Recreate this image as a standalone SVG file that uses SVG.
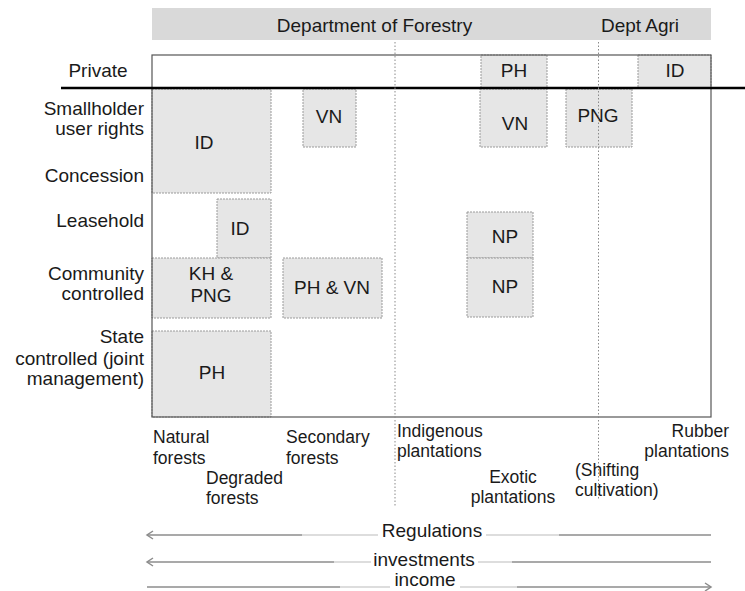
<svg xmlns="http://www.w3.org/2000/svg" width="745" height="591" viewBox="0 0 745 591">
<style>
text{font-family:"Liberation Sans",Arial,sans-serif;fill:#1a1a1a;}
.lbl{font-size:19px;}
.row{font-size:19px;text-anchor:end;}
.cat{font-size:17.5px;}
.mid{text-anchor:middle;}
.box{fill:#e6e6e6;stroke:#9a9a9a;stroke-width:1;stroke-dasharray:2 1;}
.dot{stroke:#8a8a8a;stroke-width:1;stroke-dasharray:1.5 2;fill:none;}
.dk{stroke:#8c8c8c;stroke-width:1.5;fill:none;}
.lt{stroke:#d2d2d2;stroke-width:1.5;fill:none;}
</style>
<rect width="745" height="591" fill="#ffffff"/>
<g id="header">
<rect x="152" y="8" width="559" height="32" fill="#d9d9d9"/>
<text class="lbl mid" x="374.5" y="32">Department of Forestry</text>
<text class="lbl mid" x="640" y="32">Dept Agri</text>
</g>
<g id="row-labels">
<text class="lbl mid" x="98" y="77">Private</text>
<text class="row" x="144" y="115">Smallholder</text>
<text class="row" x="144" y="135">user rights</text>
<text class="row" x="144" y="182">Concession</text>
<text class="row" x="144" y="227">Leasehold</text>
<text class="row" x="144" y="280">Community</text>
<text class="row" x="144" y="300">controlled</text>
<text class="row" x="144" y="343">State</text>
<text class="row" x="144" y="365">controlled (joint</text>
<text class="row" x="144" y="385">management)</text>
</g>
<g id="node-ph-private"><rect class="box" x="481" y="55" width="66" height="33"/><text class="lbl mid" x="514" y="77">PH</text></g>
<g id="node-id-private"><rect class="box" x="638" y="55" width="73" height="33"/><text class="lbl mid" x="675" y="77">ID</text></g>
<g id="node-id-concession"><rect class="box" x="152" y="89" width="119" height="104"/><text class="lbl mid" x="204" y="149">ID</text></g>
<g id="node-vn-secondary"><rect class="box" x="303" y="89" width="53" height="58"/><text class="lbl mid" x="329" y="123">VN</text></g>
<g id="node-vn-exotic"><rect class="box" x="480" y="89" width="67" height="58"/><text class="lbl mid" x="515" y="130">VN</text></g>
<g id="node-png-shifting"><rect class="box" x="566" y="89" width="66" height="58"/><text class="lbl mid" x="598" y="122">PNG</text></g>
<g id="node-id-leasehold"><rect class="box" x="217" y="199" width="54" height="59"/><text class="lbl mid" x="240" y="235">ID</text></g>
<g id="node-np-leasehold"><rect class="box" x="467" y="212" width="66" height="46"/><text class="lbl mid" x="505" y="243">NP</text></g>
<g id="node-khpng"><rect class="box" x="152" y="258" width="119" height="60"/><text class="lbl mid" x="211" y="280">KH &amp;</text><text class="lbl mid" x="211" y="302">PNG</text></g>
<g id="node-phvn"><rect class="box" x="283" y="258" width="99" height="60"/><text class="lbl mid" x="332" y="294">PH &amp; VN</text></g>
<g id="node-np-community"><rect class="box" x="467" y="258" width="66" height="59"/><text class="lbl mid" x="505" y="293">NP</text></g>
<g id="node-ph-state"><rect class="box" x="152" y="331" width="119" height="86"/><text class="lbl mid" x="212" y="379">PH</text></g>
<g id="frame">
<rect x="152" y="55" width="559" height="362" fill="none" stroke="#555" stroke-width="1.2"/>
<line x1="61" y1="88" x2="745" y2="88" stroke="#000" stroke-width="2.5"/>
<line class="dot" x1="395" y1="42" x2="395" y2="506"/>
<line class="dot" x1="598.5" y1="42" x2="598.5" y2="500"/>
</g>
<g id="categories">
<text class="cat" x="153" y="443">Natural</text>
<text class="cat" x="153" y="464">forests</text>
<text class="cat" x="206" y="484">Degraded</text>
<text class="cat" x="206" y="504">forests</text>
<text class="cat" x="286" y="443">Secondary</text>
<text class="cat" x="286" y="464">forests</text>
<text class="cat" x="397" y="437">Indigenous</text>
<text class="cat" x="397" y="457">plantations</text>
<text class="cat mid" x="513" y="483">Exotic</text>
<text class="cat mid" x="513" y="503">plantations</text>
<text class="cat" x="575" y="476">(Shifting</text>
<text class="cat" x="575" y="496">cultivation)</text>
<text class="cat" x="729" y="437" text-anchor="end">Rubber</text>
<text class="cat" x="729" y="457" text-anchor="end">plantations</text>
</g>
<g id="connectors">
<line class="dk" x1="147" y1="535" x2="302" y2="535"/>
<line class="lt" x1="302" y1="535" x2="378" y2="535"/>
<line class="lt" x1="486" y1="535" x2="559" y2="535"/>
<line class="dk" x1="559" y1="535" x2="711" y2="535"/>
<path class="dk" d="M153,531 L147,535 L153,539"/>
<line class="dk" x1="147" y1="562" x2="334" y2="562"/>
<line class="lt" x1="334" y1="562" x2="371" y2="562"/>
<line class="lt" x1="478" y1="562" x2="512" y2="562"/>
<line class="dk" x1="512" y1="562" x2="711" y2="562"/>
<path class="dk" d="M153,558 L147,562 L153,566"/>
<line class="dk" x1="147" y1="587" x2="340" y2="587"/>
<line class="lt" x1="340" y1="587" x2="390" y2="587"/>
<line class="lt" x1="460" y1="587" x2="517" y2="587"/>
<line class="dk" x1="517" y1="587" x2="711" y2="587"/>
<path class="dk" d="M705,583 L711,587 L705,591"/>
</g>
<g id="axis-labels">
<text class="lbl mid" x="432" y="537">Regulations</text>
<text class="lbl mid" x="424" y="566">investments</text>
<text class="lbl mid" x="425" y="586">income</text>
</g>
</svg>
